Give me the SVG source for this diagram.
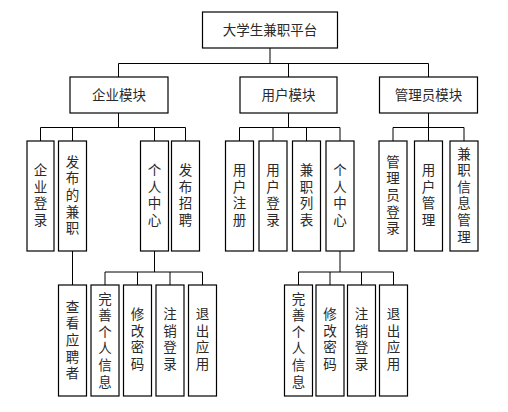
<svg xmlns="http://www.w3.org/2000/svg" width="508" height="412" viewBox="0 0 508 412">
<style>
rect{fill:#fff;stroke:#000;stroke-width:1.2}
text{font-family:"Liberation Sans","Noto Sans CJK SC","Noto Sans CJK JP",sans-serif;font-size:13.5px;fill:#2a2a2a;text-anchor:middle;dominant-baseline:central}
#connectors path{fill:none;stroke:#000;stroke-width:1}
</style>
<rect x="0" y="0" width="508" height="412" style="stroke:none;fill:#fff"/>
<g id="connectors">
<path d="M270 48V63.5M118.5 63.5H428.5M118.5 63.5V77M288.5 63.5V77M428.5 63.5V77"/>
<path d="M118.5 113V127.5M40.5 127.5H185.5M40.5 127.5V141M72.5 127.5V141M154.5 127.5V141M185.5 127.5V141"/>
<path d="M288.5 113V127.5M239.5 127.5H340M239.5 127.5V141M273 127.5V141M306.5 127.5V141M340 127.5V141"/>
<path d="M428.5 113V127.5M393 127.5H464M393 127.5V141M428.5 127.5V141M464 127.5V141"/>
<path d="M72.5 251V285"/>
<path d="M154.5 251V272M105 272H202.5M105 272V285M137.5 272V285M170 272V285M202.5 272V285"/>
<path d="M340 251V272M298.5 272H393.5M298.5 272V285M330 272V285M361.5 272V285M393.5 272V285"/>
</g>
<g id="root"><rect x="202.5" y="12" width="135" height="36"/><text x="270" y="30">大学生兼职平台</text></g>
<g id="m-enterprise"><rect x="70" y="77" width="98" height="36"/><text x="119" y="95">企业模块</text></g>
<g id="m-user"><rect x="240" y="77" width="97" height="36"/><text x="288.5" y="95">用户模块</text></g>
<g id="m-admin"><rect x="379.5" y="77" width="98" height="36"/><text x="428.5" y="95">管理员模块</text></g>

<g id="e-login"><rect x="27" y="141" width="27" height="110"/><text><tspan x="40.5" y="170.1">企</tspan><tspan x="40.5" y="186.7">业</tspan><tspan x="40.5" y="203.3">登</tspan><tspan x="40.5" y="219.9">录</tspan></text></g>
<g id="e-posted"><rect x="58.5" y="141" width="28" height="110"/><text><tspan x="72.5" y="161.8">发</tspan><tspan x="72.5" y="178.4">布</tspan><tspan x="72.5" y="195">的</tspan><tspan x="72.5" y="211.6">兼</tspan><tspan x="72.5" y="228.2">职</tspan></text></g>
<g id="e-center"><rect x="140.5" y="141" width="28" height="110"/><text><tspan x="154.5" y="170.1">个</tspan><tspan x="154.5" y="186.7">人</tspan><tspan x="154.5" y="203.3">中</tspan><tspan x="154.5" y="219.9">心</tspan></text></g>
<g id="e-recruit"><rect x="171.5" y="141" width="28" height="110"/><text><tspan x="185.5" y="170.1">发</tspan><tspan x="185.5" y="186.7">布</tspan><tspan x="185.5" y="203.3">招</tspan><tspan x="185.5" y="219.9">聘</tspan></text></g>

<g id="u-register"><rect x="225.5" y="141" width="28" height="110"/><text><tspan x="239.5" y="170.1">用</tspan><tspan x="239.5" y="186.7">户</tspan><tspan x="239.5" y="203.3">注</tspan><tspan x="239.5" y="219.9">册</tspan></text></g>
<g id="u-login"><rect x="259" y="141" width="28" height="110"/><text><tspan x="273" y="170.1">用</tspan><tspan x="273" y="186.7">户</tspan><tspan x="273" y="203.3">登</tspan><tspan x="273" y="219.9">录</tspan></text></g>
<g id="u-jobs"><rect x="292.5" y="141" width="28" height="110"/><text><tspan x="306.5" y="170.1">兼</tspan><tspan x="306.5" y="186.7">职</tspan><tspan x="306.5" y="203.3">列</tspan><tspan x="306.5" y="219.9">表</tspan></text></g>
<g id="u-center"><rect x="326" y="141" width="28" height="110"/><text><tspan x="340" y="170.1">个</tspan><tspan x="340" y="186.7">人</tspan><tspan x="340" y="203.3">中</tspan><tspan x="340" y="219.9">心</tspan></text></g>

<g id="a-login"><rect x="379" y="141" width="28" height="110"/><text><tspan x="393" y="161.8">管</tspan><tspan x="393" y="178.4">理</tspan><tspan x="393" y="195">员</tspan><tspan x="393" y="211.6">登</tspan><tspan x="393" y="228.2">录</tspan></text></g>
<g id="a-users"><rect x="414.5" y="141" width="28" height="110"/><text><tspan x="428.5" y="170.1">用</tspan><tspan x="428.5" y="186.7">户</tspan><tspan x="428.5" y="203.3">管</tspan><tspan x="428.5" y="219.9">理</tspan></text></g>
<g id="a-jobs"><rect x="450" y="141" width="28" height="110"/><text><tspan x="464" y="153.5">兼</tspan><tspan x="464" y="170.1">职</tspan><tspan x="464" y="186.7">信</tspan><tspan x="464" y="203.3">息</tspan><tspan x="464" y="219.9">管</tspan><tspan x="464" y="236.5">理</tspan></text></g>

<g id="e-applicants"><rect x="58.5" y="285" width="28" height="111"/><text><tspan x="72.5" y="306.8">查</tspan><tspan x="72.5" y="323.4">看</tspan><tspan x="72.5" y="340">应</tspan><tspan x="72.5" y="356.6">聘</tspan><tspan x="72.5" y="373.2">者</tspan></text></g>
<g id="e-info"><rect x="91" y="285" width="28" height="111"/><text><tspan x="105" y="298.5">完</tspan><tspan x="105" y="315.1">善</tspan><tspan x="105" y="331.7">个</tspan><tspan x="105" y="348.3">人</tspan><tspan x="105" y="364.9">信</tspan><tspan x="105" y="381.5">息</tspan></text></g>
<g id="e-pwd"><rect x="123.5" y="285" width="28" height="111"/><text><tspan x="137.5" y="314.1">修</tspan><tspan x="137.5" y="330.7">改</tspan><tspan x="137.5" y="347.3">密</tspan><tspan x="137.5" y="363.9">码</tspan></text></g>
<g id="e-logout"><rect x="156" y="285" width="28" height="111"/><text><tspan x="170" y="314.1">注</tspan><tspan x="170" y="330.7">销</tspan><tspan x="170" y="347.3">登</tspan><tspan x="170" y="363.9">录</tspan></text></g>
<g id="e-exit"><rect x="188.5" y="285" width="28" height="111"/><text><tspan x="202.5" y="314.1">退</tspan><tspan x="202.5" y="330.7">出</tspan><tspan x="202.5" y="347.3">应</tspan><tspan x="202.5" y="363.9">用</tspan></text></g>

<g id="u-info"><rect x="284.5" y="285" width="28" height="111"/><text><tspan x="298.5" y="298.5">完</tspan><tspan x="298.5" y="315.1">善</tspan><tspan x="298.5" y="331.7">个</tspan><tspan x="298.5" y="348.3">人</tspan><tspan x="298.5" y="364.9">信</tspan><tspan x="298.5" y="381.5">息</tspan></text></g>
<g id="u-pwd"><rect x="316" y="285" width="28" height="111"/><text><tspan x="330" y="314.1">修</tspan><tspan x="330" y="330.7">改</tspan><tspan x="330" y="347.3">密</tspan><tspan x="330" y="363.9">码</tspan></text></g>
<g id="u-logout"><rect x="347.5" y="285" width="28" height="111"/><text><tspan x="361.5" y="314.1">注</tspan><tspan x="361.5" y="330.7">销</tspan><tspan x="361.5" y="347.3">登</tspan><tspan x="361.5" y="363.9">录</tspan></text></g>
<g id="u-exit"><rect x="379.5" y="285" width="28" height="111"/><text><tspan x="393.5" y="314.1">退</tspan><tspan x="393.5" y="330.7">出</tspan><tspan x="393.5" y="347.3">应</tspan><tspan x="393.5" y="363.9">用</tspan></text></g>
</svg>
